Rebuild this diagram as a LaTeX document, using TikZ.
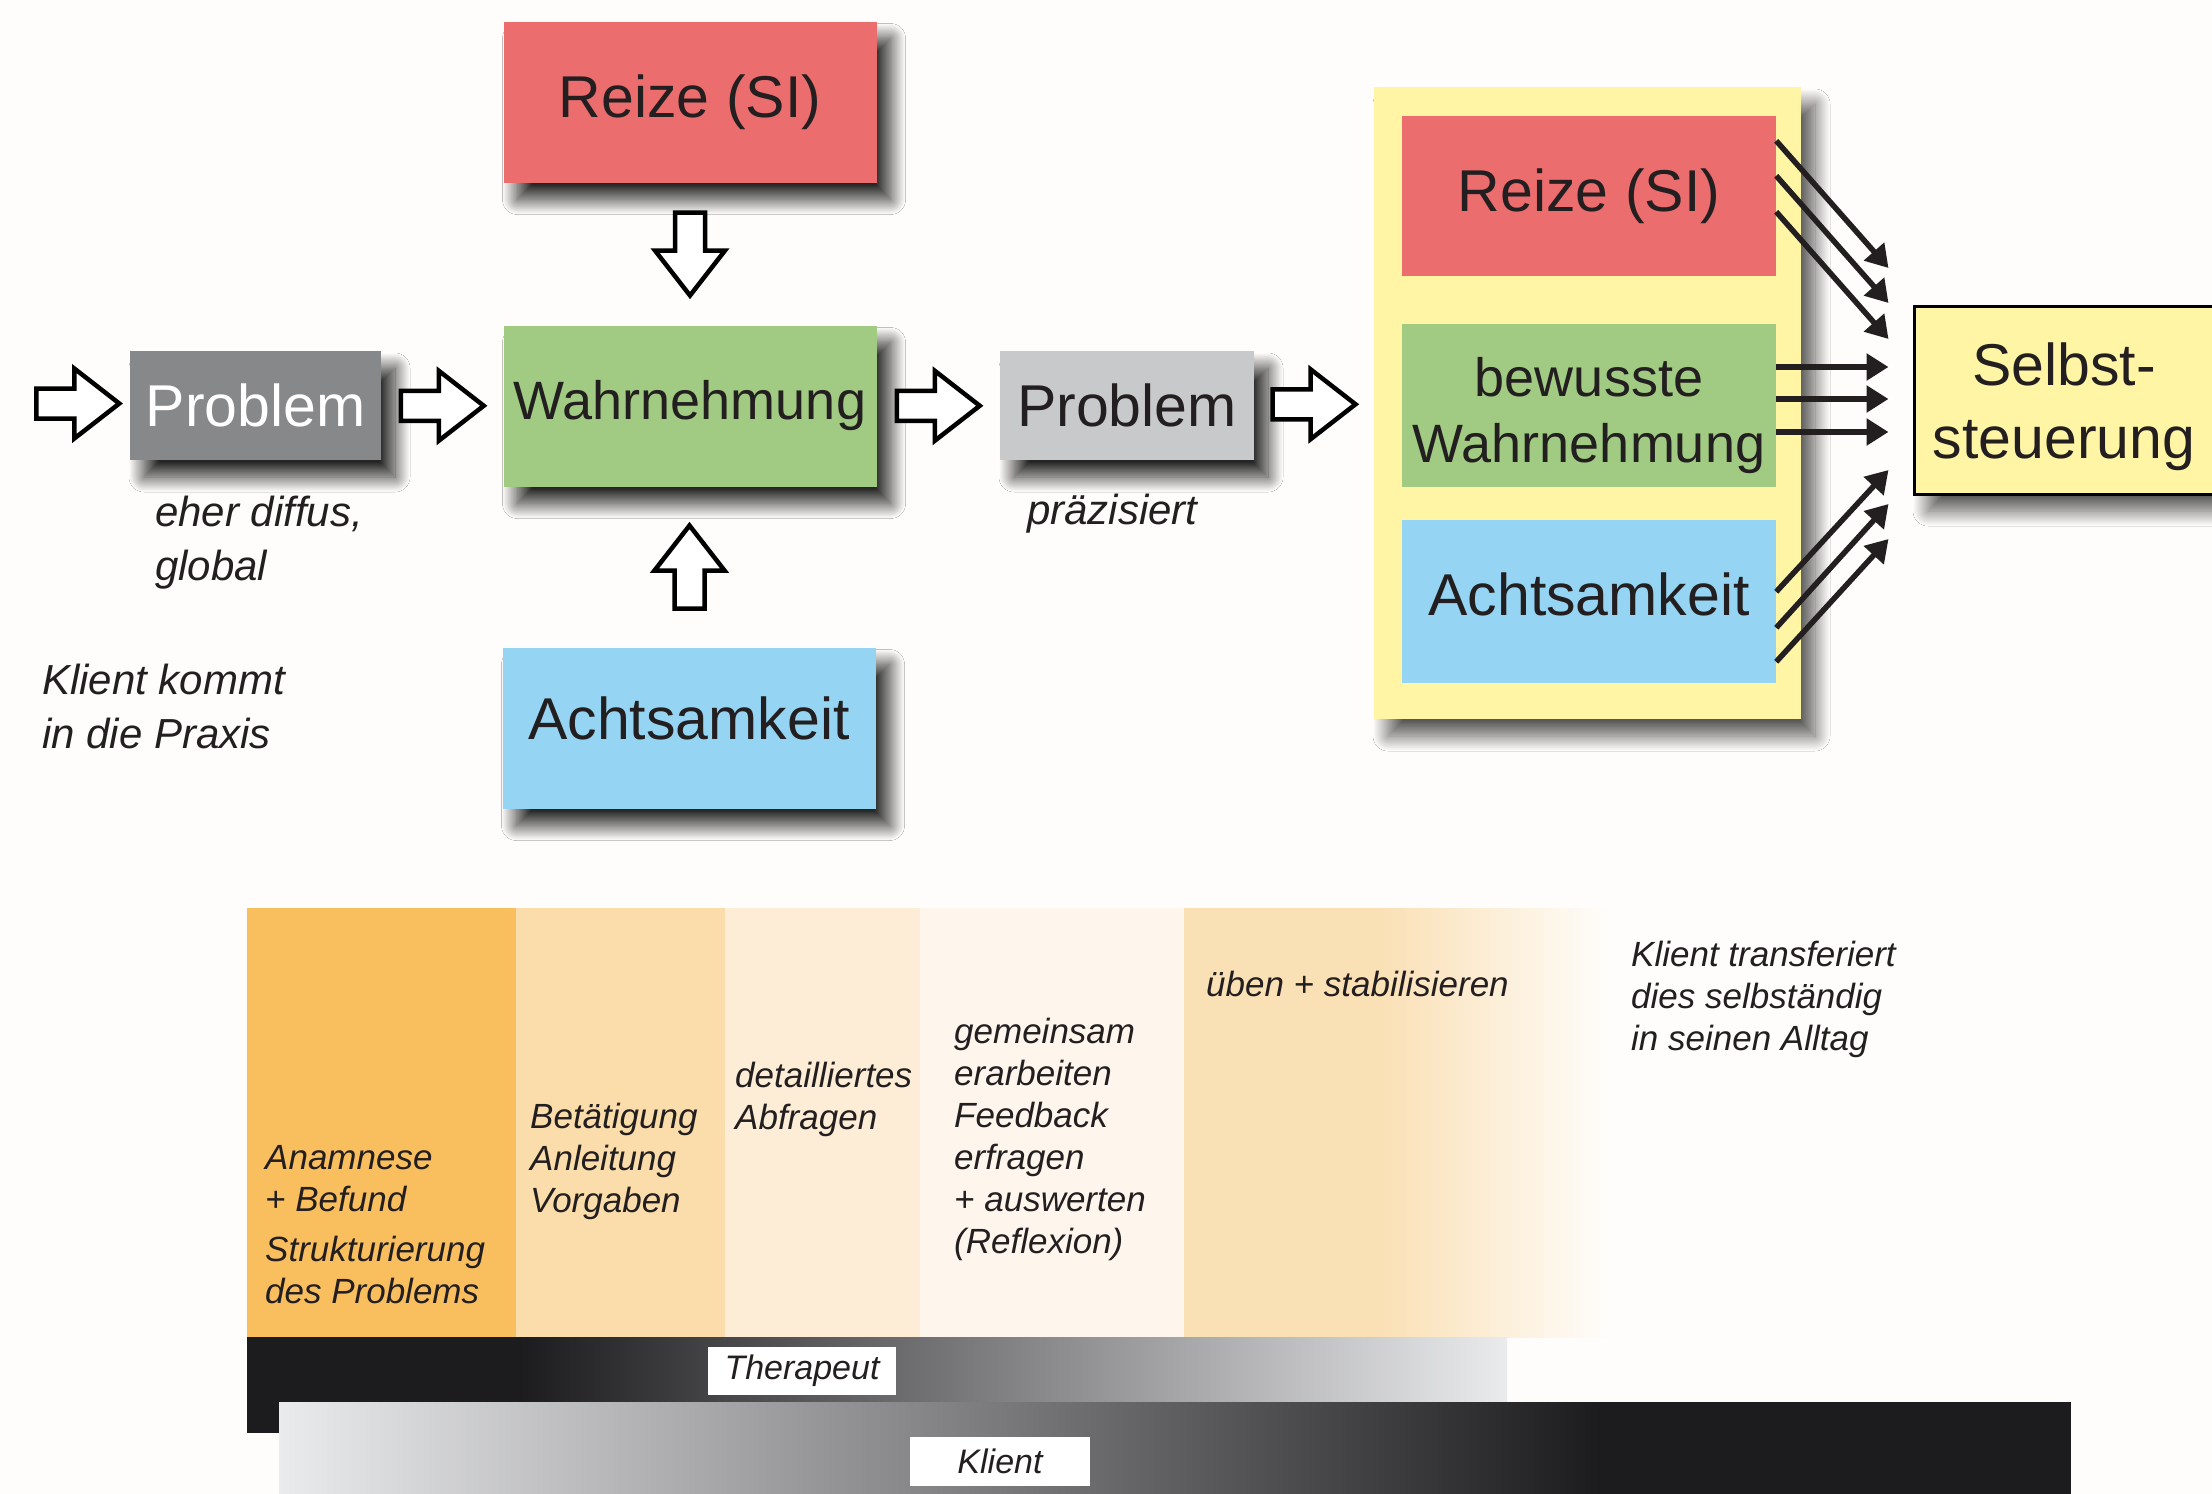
\documentclass[tikz,border=0pt]{standalone}
\usepackage{fontspec}
\setmainfont{Liberation Sans}
\usetikzlibrary{arrows.meta,calc,shadows.blur}

\definecolor{reizrot}{RGB}{235,109,110}
\definecolor{wahrgruen}{RGB}{161,202,130}
\definecolor{achtblau}{RGB}{149,212,242}
\definecolor{probdunkel}{RGB}{135,136,138}
\definecolor{probhell}{RGB}{200,201,203}
\definecolor{feldgelb}{RGB}{255,245,165}
\definecolor{textschwarz}{RGB}{35,31,32}
\definecolor{phaseA}{RGB}{249,190,94}
\definecolor{phaseB}{RGB}{250,221,170}
\definecolor{phaseC}{RGB}{253,237,214}
\definecolor{phaseD}{RGB}{254,246,236}
\definecolor{phaseE}{RGB}{250,224,181}
\definecolor{seite}{RGB}{254,253,251}
\definecolor{balkenschwarz}{RGB}{28,27,30}
\definecolor{balkenhell}{RGB}{234,235,236}

\tikzset{
  schatten/.style={blur shadow={shadow xshift=14pt,shadow yshift=-17pt,shadow blur radius=15pt,
    shadow blur steps=40,shadow opacity=#1}},
  schatten/.default=85,
  kasten/.style={rectangle,inner sep=0pt,minimum width=373pt,minimum height=161pt,text=textschwarz,
    font=\fontsize{59}{70}\selectfont,align=center},
  schrift/.style={inner sep=0pt,align=center,text=textschwarz},
  hohlpfeil/.pic={\draw[line width=4.5pt,fill=white,miter limit=10]
    (-41.5,-15) -- (-3.5,-15) -- (-3.5,-35) -- (41.5,0) -- (-3.5,35) -- (-3.5,15) -- (-41.5,15) -- cycle;},
  notiz/.style={inner sep=0pt,anchor=north west,align=left,text=textschwarz,font=\fontsize{42}{54}\selectfont\itshape},
  phase/.style={inner sep=0pt,anchor=north west,align=left,text=textschwarz,font=\fontsize{35}{42}\selectfont\itshape},
  etikett/.style={fill=white,inner sep=0pt,text=textschwarz,font=\fontsize{34}{40}\selectfont\itshape},
  pfeilchen/.style={line width=5.5pt,textschwarz,-{Triangle[length=22pt,width=26pt]}}
}

\begin{document}
\begin{tikzpicture}[x=1pt,y=-1pt]
\useasboundingbox (0,0) rectangle (2212,1494);
\fill[seite] (0,0) rectangle (2212,1494);

% linker Ablauf
\node[kasten,fill=reizrot,schatten] (reizeA) at (690,102) {Reize (SI)};
\node[kasten,fill=wahrgruen,schatten,font=\fontsize{54}{64}\selectfont] (wahrA) at (690,406) {Wahrnehmung};
\node[kasten,fill=achtblau,schatten,text depth=20pt] (achtA) at (689,728) {Achtsamkeit};
\node[kasten,fill=probdunkel,text=white,schatten,minimum width=251pt,minimum height=109pt] (probA) at (255.5,405.5) {Problem};
\node[kasten,fill=probhell,schatten,minimum width=254pt,minimum height=109pt] (probB) at (1127,405.5) {Problem};

\node[notiz] (diffus) at (155,496) {eher diffus,\\global};
\node[notiz] (praxis) at (42,664) {Klient kommt\\in die Praxis};
\node[notiz] (praez) at (1027,494) {präzisiert};

% rechter Block
\node[kasten,fill=feldgelb,schatten=65,minimum width=427pt,minimum height=632pt] (panel) at (1587.5,403) {};
\node[kasten,fill=reizrot,minimum width=374pt,minimum height=160pt] (reizeB) at (1589,196) {Reize (SI)};
\node[kasten,fill=wahrgruen,minimum width=374pt,minimum height=163pt] (wahrB) at (1589,405.5) {};
\node[schrift,font=\fontsize{54}{66}\selectfont] (wahrBtext) at ($(wahrB.center)+(0,10)$) {bewusste\\Wahrnehmung};
\node[kasten,fill=achtblau,minimum width=374pt,minimum height=163pt,text depth=14pt] (achtB) at (1589,601.5) {Achtsamkeit};
\node[kasten,fill=feldgelb,draw=black,line width=3pt,schatten=65,minimum width=300pt,minimum height=188pt] (selbst) at (2064,400) {};
\node[schrift,font=\fontsize{59}{73}\selectfont] (selbsttext) at ($(selbst.center)+(0,7)$) {Selbst-\\steuerung};

% Hohlpfeile
\pic at ($(probA.west)+(-52,-2)$) {hohlpfeil};
\pic at ($(probA.east)!0.5!(wahrA.west)$) {hohlpfeil};
\pic at ($(wahrA.east)!0.5!(probB.west)$) {hohlpfeil};
\pic at ($(probB.east)!0.5!(panel.west)$) {hohlpfeil};
\pic[rotate=-90] at ($(reizeA.south)!0.5!(wahrA.north)$) {hohlpfeil};
\pic[rotate=90] at ($(achtA.north)!0.5!(wahrA.south)$) {hohlpfeil};

% Pfeile zur Selbststeuerung
\foreach \d/\e in {25/-132,60/-97,96/-61}
  \draw[pfeilchen] ($(reizeB.north east)+(0,\d)$) -- ($(selbst.west)+(-24,\e)$);
\foreach \e in {-33,-1,32} {
  \coordinate (ziel) at ($(selbst.west)+(-24,\e)$);
  \draw[pfeilchen] (wahrB.east |- ziel) -- (ziel);
}
\foreach \d/\e in {72/70,108/104,142/139}
  \draw[pfeilchen] ($(achtB.north east)+(0,\d)$) -- ($(selbst.west)+(-24,\e)$);

% Phasen
\fill[phaseA] (247,908) rectangle (516,1337);
\fill[phaseB] (516,908) rectangle (725,1337);
\fill[phaseC] (725,908) rectangle (920,1337);
\fill[phaseD] (920,908) rectangle (1184,1337);
\fill[phaseE] (1184,908) rectangle (1380,1337);
\shade[left color=phaseE,right color=seite] (1380,908) rectangle (1610,1337);

\node[phase] (anamnese) at (265,1145) {Anamnese\\+ Befund\\[8pt]Strukturierung\\des Problems};
\node[phase] (anleitung) at (530,1103) {Betätigung\\Anleitung\\Vorgaben};
\node[phase] (abfragen) at (735,1062) {detailliertes\\Abfragen};
\node[phase] (reflexion) at (954,1018) {gemeinsam\\erarbeiten\\Feedback\\erfragen\\+ auswerten\\(Reflexion)};
\node[phase] (ueben) at (1206,971) {üben + stabilisieren};
\node[phase] (transfer) at (1631,941) {Klient transferiert\\dies selbständig\\in seinen Alltag};

% Balken
\fill[balkenschwarz] (247,1337) rectangle (520,1433);
\shade[left color=balkenschwarz,right color=balkenhell] (520,1337) rectangle (1507,1401);
\shade[left color=balkenhell,right color=balkenschwarz] (279,1402) rectangle (1600,1494);
\fill[balkenschwarz] (1600,1402) rectangle (2071,1494);

\node[etikett,minimum width=188pt,minimum height=48pt] (therapeut) at (802,1371) {Therapeut};
\node[etikett,minimum width=180pt,minimum height=49pt] (klient) at (1000,1461.5) {Klient};
\end{tikzpicture}
\end{document}
